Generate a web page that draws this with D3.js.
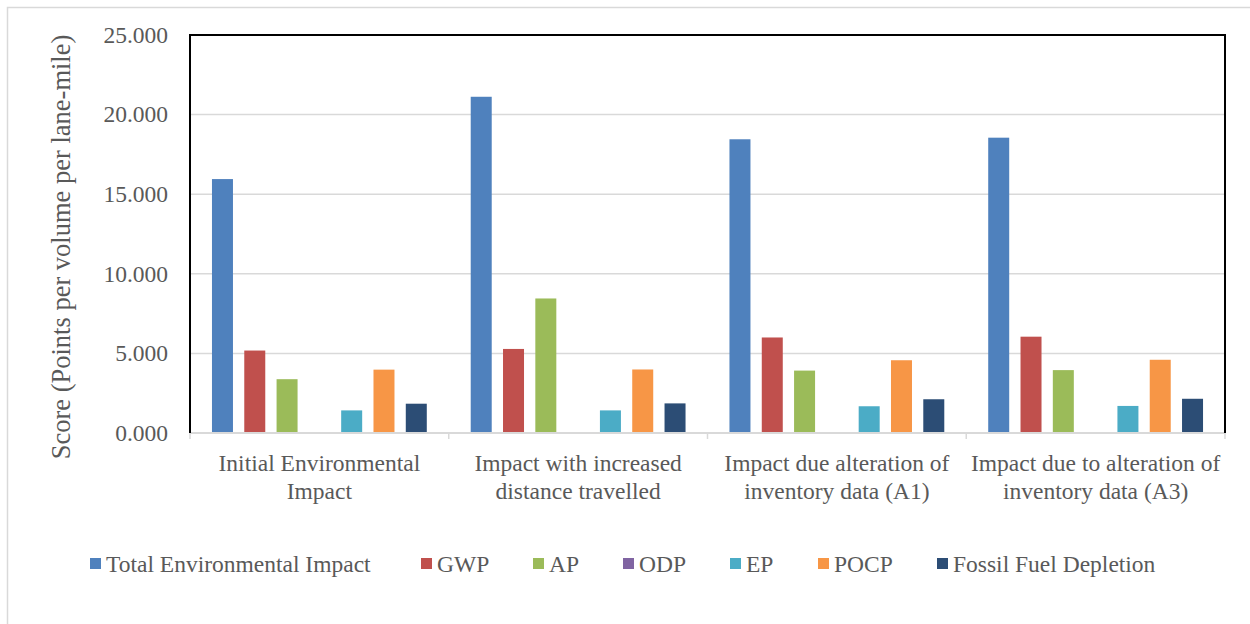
<!DOCTYPE html>
<html><head><meta charset="utf-8">
<script src="https://cdn.jsdelivr.net/npm/d3@7"></script>
<style>body{margin:0;background:#fff}svg{display:block}</style>
</head><body><svg id="c" width="1250" height="624"></svg>
<script>
const categories = [
  ["Initial Environmental", "Impact"],
  ["Impact with increased", "distance travelled"],
  ["Impact due alteration of", "inventory data (A1)"],
  ["Impact due to alteration of", "inventory data (A3)"]
];
const seriesNames = ["Total Environmental Impact","GWP","AP","ODP","EP","POCP","Fossil Fuel Depletion"];
const seriesColors = ["#4F81BD","#C0504D","#9BBB59","#8064A2","#4BACC6","#F79646","#2C4D75"];
const totalImpact = [15.95, 21.12, 18.45, 18.55];
const gwp = [5.18, 5.28, 6.0, 6.05];
const ap = [3.38, 8.45, 3.92, 3.95];
const odp = [0.002, 0.002, 0.002, 0.002];
const ep = [1.42, 1.42, 1.68, 1.7];
const pocp = [3.98, 3.99, 4.57, 4.6];
const ffd = [1.84, 1.86, 2.12, 2.15];
const yTicks = [0, 5, 10, 15, 20, 25];
const seriesValues = [totalImpact, gwp, ap, odp, ep, pocp, ffd];

const svg = d3.select("#c");
const font = "'Liberation Serif','Times New Roman',serif";
const txt = "#595959";

svg.append("rect").attr("x",7.5).attr("y",7.5).attr("width",1260).attr("height",640)
  .attr("fill","#fff").attr("stroke","#D9D9D9").attr("stroke-width",1.5);

const L = 190, R = 1225, T = 35, B = 433;
const x0 = d3.scaleBand().domain(d3.range(categories.length)).range([L, R]).paddingInner(0).paddingOuter(0);
const x1 = d3.scaleBand().domain(d3.range(seriesNames.length)).range([0, x0.bandwidth()]).paddingInner(0.35).paddingOuter(0.68);
const y = d3.scaleLinear().domain([0, 25]).range([B, T]);

// gridlines
svg.append("g").selectAll("line").data(yTicks.slice(1)).join("line")
  .attr("x1", L).attr("x2", R).attr("y1", d => y(d)).attr("y2", d => y(d))
  .attr("stroke", "#D9D9D9").attr("stroke-width", 1.5);

// y tick labels
svg.append("g").selectAll("text").data(yTicks).join("text")
  .attr("x", 168).attr("y", d => y(d)).attr("dy", "0.33em").attr("text-anchor", "end")
  .attr("font-family", font).attr("font-size", 23.5).attr("fill", txt)
  .text(d => d3.format(".3f")(d));

// bars
const g = svg.append("g");
categories.forEach((c, ci) => {
  seriesValues.forEach((vals, si) => {
    const v = vals[ci];
    g.append("rect")
      .attr("x", x0(ci) + x1(si)).attr("width", x1.bandwidth())
      .attr("y", y(v)).attr("height", B - y(v))
      .attr("fill", seriesColors[si]);
  });
});

// bottom axis
svg.append("line").attr("x1", L).attr("x2", R).attr("y1", B).attr("y2", B)
  .attr("stroke", "#D9D9D9").attr("stroke-width", 2);
svg.append("g").selectAll("line").data(d3.range(categories.length + 1)).join("line")
  .attr("x1", d => L + d * x0.bandwidth()).attr("x2", d => L + d * x0.bandwidth())
  .attr("y1", B).attr("y2", B + 6).attr("stroke", "#D9D9D9").attr("stroke-width", 1.5);

// plot border (black)
svg.append("path")
  .attr("d", `M${L},${B}V${T}H${R}V${B}`)
  .attr("fill", "none").attr("stroke", "#000").attr("stroke-width", 2);

// category labels
categories.forEach((lines, ci) => {
  const cx = x0(ci) + x0.bandwidth() / 2;
  lines.forEach((ln, li) => {
    svg.append("text").attr("x", cx).attr("y", 471 + li * 28).attr("text-anchor", "middle")
      .attr("font-family", font).attr("font-size", 23.5).attr("fill", txt).text(ln);
  });
});

// y-axis title
svg.append("text").attr("transform", "translate(70,247) rotate(-90)")
  .attr("text-anchor", "middle").attr("font-family", font).attr("font-size", 26.5).attr("fill", txt)
  .text("Score (Points per volume per lane-mile)");

// legend
const legX = [90, 421, 533, 623, 730, 818, 937];
const leg = svg.append("g");
seriesNames.forEach((n, i) => {
  leg.append("rect").attr("x", legX[i]).attr("y", 558).attr("width", 11).attr("height", 11).attr("fill", seriesColors[i]);
  leg.append("text").attr("x", legX[i] + 16).attr("y", 572).attr("font-family", font).attr("font-size", 23.5)
    .attr("fill", txt).text(n);
});
</script></body></html>
